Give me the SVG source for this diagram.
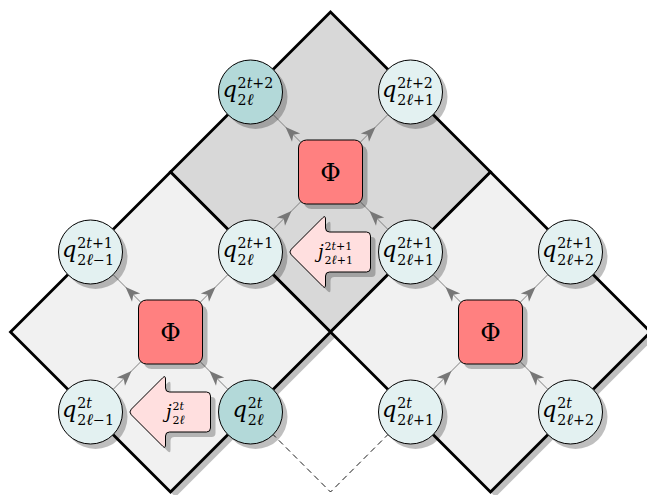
<svg xmlns="http://www.w3.org/2000/svg" width="647" height="495" viewBox="0 0 647 495">
<style>
.dia{stroke:#000;stroke-width:2.8;stroke-linejoin:miter}
.dl{fill:#f1f1f1}
.dd{fill:#d8d8d8}
.sh{fill:#000;fill-opacity:.25;stroke:none}
.nd{stroke:#000;stroke-width:1}
.lt{fill:#e3f1f1}
.dk{fill:#b3d9d9}
.phi{fill:#ff8080}
.ja{fill:#ffdfdf;stroke:#000;stroke-width:1}
.con{stroke:#808080;stroke-width:1;fill:none;marker-mid:url(#ah)}
.dash{stroke:#000;stroke-width:0.9;fill:none;stroke-dasharray:6 4}
text{font-family:"DejaVu Serif","Liberation Serif",serif;fill:#000}
.m{font-size:22.5px;font-style:italic}
.s{font-size:14.2px}
.i{font-style:italic}
.l{font-family:"Liberation Serif","DejaVu Serif",serif;font-style:italic;font-size:1.15em}
.jm{font-size:18px;font-style:italic}
.js{font-size:11px}
.ph{font-size:25px;text-anchor:middle}
</style>
<defs>
<marker id="ah" viewBox="-16 -7 17 14" refX="0" refY="0" markerWidth="17" markerHeight="14" markerUnits="userSpaceOnUse" orient="auto">
<path d="M0,0 L-15,-5.8 L-11,0 L-15,5.8 Z" fill="#777"/>
</marker>
<path id="jarrow" d="M -38.2,-2.8 L -6.8,-34.2 Q -4,-37 -4,-33 L -4,-24 Q -4,-20 0,-20 L 37,-20 Q 41,-20 41,-16 L 41,16 Q 41,20 37,20 L 0,20 Q -4,20 -4,24 L -4,33 Q -4,37 -6.8,34.2 L -38.2,2.8 Q -41,0 -38.2,-2.8 Z"/>
</defs>

<g id="plaquettes">
<g id="plaquette-top">
<polygon class="sh" points="335.5,17 495.5,177 335.5,337 175.5,177"/>
<polygon class="dia dd" points="330.5,12 490.5,172 330.5,332 170.5,172"/>
</g>
<g id="plaquette-left">
<polygon class="sh" points="175.5,177 335.5,337 175.5,497 15.5,337"/>
<polygon class="dia dl" points="170.5,172 330.5,332 170.5,492 10.5,332"/>
</g>
<g id="plaquette-right">
<polygon class="sh" points="495.5,177 655.5,337 495.5,497 335.5,337"/>
<polygon class="dia dl" points="490.5,172 650.5,332 490.5,492 330.5,332"/>
</g>
</g>

<g id="connectors">
<path class="con" d="M90.5,412 L131.5,371 L170.5,332"/>
<path class="con" d="M250.5,412 L209.5,371 L170.5,332"/>
<path class="con" d="M170.5,332 L125.5,287 L90.5,252"/>
<path class="con" d="M170.5,332 L215.5,287 L250.5,252"/>
<path class="con" d="M250.5,252 L291.5,211 L330.5,172"/>
<path class="con" d="M410.5,252 L369.5,211 L330.5,172"/>
<path class="con" d="M330.5,172 L285.5,127 L250.5,92"/>
<path class="con" d="M330.5,172 L375.5,127 L410.5,92"/>
<path class="con" d="M410.5,412 L451.5,371 L490.5,332"/>
<path class="con" d="M570.5,412 L529.5,371 L490.5,332"/>
<path class="con" d="M490.5,332 L445.5,287 L410.5,252"/>
<path class="con" d="M490.5,332 L535.5,287 L570.5,252"/>
<path class="dash" d="M250.5,412 L330.5,492 L410.5,412"/>
</g>

<g id="phi-left">
<rect class="sh" x="143.5" y="305" width="64" height="64" rx="8"/>
<rect class="nd phi" x="138.5" y="300" width="64" height="64" rx="8"/>
<text class="ph" x="170.5" y="341">Φ</text>
</g>
<g id="phi-top">
<rect class="sh" x="303.5" y="145" width="64" height="64" rx="8"/>
<rect class="nd phi" x="298.5" y="140" width="64" height="64" rx="8"/>
<text class="ph" x="330.5" y="181">Φ</text>
</g>
<g id="phi-right">
<rect class="sh" x="463.5" y="305" width="64" height="64" rx="8"/>
<rect class="nd phi" x="458.5" y="300" width="64" height="64" rx="8"/>
<text class="ph" x="490.5" y="341">Φ</text>
</g>

<g id="j-left">
<use href="#jarrow" class="sh" transform="translate(174.5,417)"/>
<use href="#jarrow" class="ja" transform="translate(169.5,412)"/>
<text class="jm" x="166" y="417.5">j</text>
<text class="js" x="172.5" y="409.5">2<tspan class="i">t</tspan></text>
<text class="js" x="172.5" y="424">2<tspan class="l">ℓ</tspan></text>
</g>
<g id="j-top">
<use href="#jarrow" class="sh" transform="translate(334.5,257)"/>
<use href="#jarrow" class="ja" transform="translate(329.5,252)"/>
<text class="jm" x="318" y="257.5">j</text>
<text class="js" x="324.5" y="249.5">2<tspan class="i">t</tspan>+1</text>
<text class="js" x="324.5" y="264">2<tspan class="l">ℓ</tspan>+1</text>
</g>

<g id="q-2l-2t2">
<circle class="sh" cx="255.5" cy="97" r="32"/>
<circle class="nd dk" cx="250.5" cy="92" r="32"/>
<text class="m" x="222.4" y="97">q</text>
<text class="s" x="237.6" y="88">2<tspan class="i">t</tspan>+2</text>
<text class="s" x="237.6" y="105">2<tspan class="l">ℓ</tspan></text>
</g>
<g id="q-2l1-2t2">
<circle class="sh" cx="415.5" cy="97" r="32"/>
<circle class="nd lt" cx="410.5" cy="92" r="32"/>
<text class="m" x="382" y="97">q</text>
<text class="s" x="397.2" y="88">2<tspan class="i">t</tspan>+2</text>
<text class="s" x="397.2" y="105">2<tspan class="l">ℓ</tspan>+1</text>
</g>
<g id="q-2lm1-2t1">
<circle class="sh" cx="95.5" cy="257" r="32"/>
<circle class="nd lt" cx="90.5" cy="252" r="32"/>
<text class="m" x="62" y="257">q</text>
<text class="s" x="77.2" y="248">2<tspan class="i">t</tspan>+1</text>
<text class="s" x="77.2" y="265">2<tspan class="l">ℓ</tspan>−1</text>
</g>
<g id="q-2l-2t1">
<circle class="sh" cx="255.5" cy="257" r="32"/>
<circle class="nd lt" cx="250.5" cy="252" r="32"/>
<text class="m" x="222.4" y="257">q</text>
<text class="s" x="237.6" y="248">2<tspan class="i">t</tspan>+1</text>
<text class="s" x="237.6" y="265">2<tspan class="l">ℓ</tspan></text>
</g>
<g id="q-2l1-2t1">
<circle class="sh" cx="415.5" cy="257" r="32"/>
<circle class="nd lt" cx="410.5" cy="252" r="32"/>
<text class="m" x="382" y="257">q</text>
<text class="s" x="397.2" y="248">2<tspan class="i">t</tspan>+1</text>
<text class="s" x="397.2" y="265">2<tspan class="l">ℓ</tspan>+1</text>
</g>
<g id="q-2l2-2t1">
<circle class="sh" cx="575.5" cy="257" r="32"/>
<circle class="nd lt" cx="570.5" cy="252" r="32"/>
<text class="m" x="542" y="257">q</text>
<text class="s" x="557.2" y="248">2<tspan class="i">t</tspan>+1</text>
<text class="s" x="557.2" y="265">2<tspan class="l">ℓ</tspan>+2</text>
</g>
<g id="q-2lm1-2t">
<circle class="sh" cx="95.5" cy="417" r="32"/>
<circle class="nd lt" cx="90.5" cy="412" r="32"/>
<text class="m" x="62" y="417">q</text>
<text class="s" x="77.2" y="408">2<tspan class="i">t</tspan></text>
<text class="s" x="77.2" y="425">2<tspan class="l">ℓ</tspan>−1</text>
</g>
<g id="q-2l-2t">
<circle class="sh" cx="255.5" cy="417" r="32"/>
<circle class="nd dk" cx="250.5" cy="412" r="32"/>
<text class="m" x="232.5" y="417">q</text>
<text class="s" x="247.7" y="408">2<tspan class="i">t</tspan></text>
<text class="s" x="247.7" y="425">2<tspan class="l">ℓ</tspan></text>
</g>
<g id="q-2l1-2t">
<circle class="sh" cx="415.5" cy="417" r="32"/>
<circle class="nd lt" cx="410.5" cy="412" r="32"/>
<text class="m" x="382" y="417">q</text>
<text class="s" x="397.2" y="408">2<tspan class="i">t</tspan></text>
<text class="s" x="397.2" y="425">2<tspan class="l">ℓ</tspan>+1</text>
</g>
<g id="q-2l2-2t">
<circle class="sh" cx="575.5" cy="417" r="32"/>
<circle class="nd lt" cx="570.5" cy="412" r="32"/>
<text class="m" x="542" y="417">q</text>
<text class="s" x="557.2" y="408">2<tspan class="i">t</tspan></text>
<text class="s" x="557.2" y="425">2<tspan class="l">ℓ</tspan>+2</text>
</g>
</svg>
